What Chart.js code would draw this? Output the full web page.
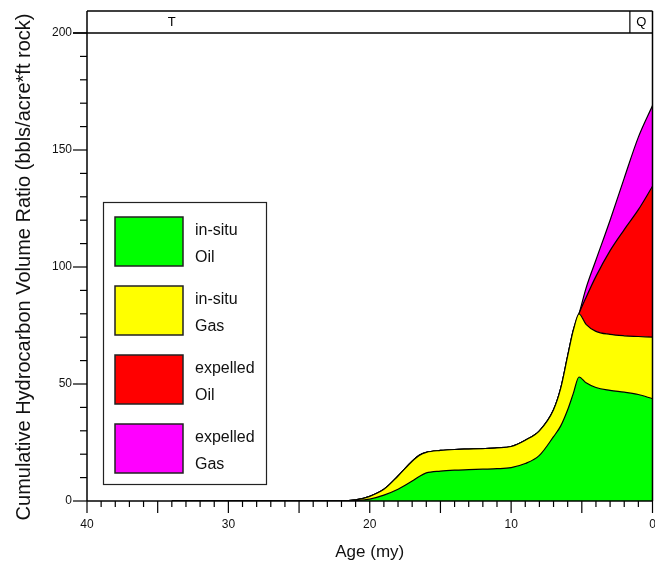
<!DOCTYPE html>
<html><head><meta charset="utf-8">
<style>html,body{margin:0;padding:0;background:#fff;}#wrap{width:655px;height:568px;}</style>
<script src="https://cdn.jsdelivr.net/npm/chart.js@4.4.0/dist/chart.umd.min.js"></script>
</head><body><div id="wrap"><canvas id="c" width="655" height="568"></canvas></div>
<script>
// ---- data ----
const ages        = [34, 30, 25, 22, 21, 20, 19, 18, 17, 16.5, 16, 15, 14, 13, 12, 11, 10, 9, 8, 7, 6.5, 6, 5.6, 5.2, 4.7, 4, 3, 2, 1, 0];
const inSituOil   = [0, 0, 0, 0, 0.2, 0.8, 2.5, 5, 8.5, 10.5, 12, 12.8, 13.2, 13.4, 13.6, 13.8, 14.3, 16, 19.5, 27.5, 32, 39, 46, 53, 50.5, 48.5, 47.3, 46.5, 45.5, 43.7];
const inSituGas   = [0, 0, 0, 0, 0.3, 1.2, 2.5, 5.7, 8.5, 9, 8.8, 8.8, 8.8, 8.8, 8.8, 8.9, 9, 10, 10.5, 11.5, 16, 23, 27, 27, 25, 24, 23.9, 24.1, 24.8, 26.3];
const expelledOil = [0, 0, 0, 0, 0, 0, 0, 0, 0, 0, 0, 0, 0, 0, 0, 0, 0, 0, 0, 0, 0, 0, 0, 0, 11.5, 23.5, 35.8, 45.4, 54.2, 64.5];
const expelledGas = [0, 0, 0, 0, 0, 0, 0, 0, 0, 0, 0, 0, 0, 0, 0, 0, 0, 0, 0, 0, 0, 0, 0, 0, 4, 7, 13, 22, 31, 34.5];
const seriesLabels = [["in-situ", "Oil"], ["in-situ", "Gas"], ["expelled", "Oil"], ["expelled", "Gas"]];
const seriesColors = ["#00ff00", "#ffff00", "#ff0000", "#ff00ff"];
const yTickValues = [0, 50, 100, 150, 200];
const xTickValues = [40, 30, 20, 10, 0];
const periodNames = ["T", "Q"];
const periodEnds = [1.6, 0];      // younger boundary of each period (my)
const periodLabelAges = [34, 0.8];

// ---- fonts ----
function hasFont(name) {
  const c = document.createElement('canvas').getContext('2d');
  c.font = '40px monospace'; const a = c.measureText('200 Age mmwi').width;
  c.font = '40px "' + name + '", monospace'; const b = c.measureText('200 Age mmwi').width;
  return Math.abs(a - b) > 0.5;
}
const HAS_NARROW = hasFont('Liberation Sans Narrow');
const NARROW = HAS_NARROW ? '"Liberation Sans Narrow"' : '"Liberation Sans"';
const narrowSize = HAS_NARROW ? 14 : 12;
const SANS = '"Liberation Sans", Arial, sans-serif';

const series = [inSituOil, inSituGas, expelledOil, expelledGas];
const datasets = series.map((vals, i) => ({
  label: seriesLabels[i].join(' '),
  legendLines: seriesLabels[i],
  data: ages.map((a, k) => ({x: a, y: vals[k]})),
  backgroundColor: seriesColors[i],
  borderColor: '#000',
  borderWidth: 1.2,
  pointRadius: 0,
  cubicInterpolationMode: 'monotone',
  fill: i === 0 ? 'origin' : '-1'
}));

const decor = {
  id: 'decor',
  afterDraw(chart) {
    const {ctx, chartArea: a, scales: {x, y}} = chart;
    ctx.save();
    ctx.strokeStyle = '#000';
    ctx.lineWidth = 1.2;
    const line = (x1, y1, x2, y2) => { ctx.beginPath(); ctx.moveTo(x1, y1); ctx.lineTo(x2, y2); ctx.stroke(); };
    // y minor/major ticks
    for (let v = y.min; v <= y.max; v += 10) {
      const py = y.getPixelForValue(v);
      line(a.left - (v % 50 === 0 ? 14 : 7), py, a.left, py);
    }
    // x minor/major ticks
    for (let v = x.min; v <= x.max; v += 1) {
      const px = x.getPixelForValue(v);
      line(px, a.bottom, px, a.bottom + (v % 5 === 0 ? 12 : 6));
    }
    // frame: left, bottom, right, top
    ctx.lineWidth = 1.5;
    line(a.left, a.top - 22, a.left, a.bottom);
    line(a.left, a.bottom, a.right, a.bottom);
    line(a.right, a.top - 22, a.right, a.bottom);
    line(a.left - 14, a.top, a.right, a.top);
    // period band
    line(a.left, a.top - 22, a.right, a.top - 22);
    ctx.lineWidth = 1.2;
    periodEnds.forEach(e => { if (e > x.min) { const px = x.getPixelForValue(e); line(px, a.top - 22, px, a.top); } });
    ctx.fillStyle = '#000';
    ctx.font = '13px ' + NARROW;
    ctx.textAlign = 'center'; ctx.textBaseline = 'middle';
    periodNames.forEach((n, i) => ctx.fillText(n, x.getPixelForValue(periodLabelAges[i]), a.top - 11));
    // legend
    const lx = a.left + 16, ly = a.top + 169, lw = 163, lh = 282;
    ctx.fillStyle = '#fff';
    ctx.fillRect(lx, ly, lw, lh);
    ctx.strokeStyle = '#222'; ctx.lineWidth = 1.2;
    ctx.strokeRect(lx + 0.5, ly + 0.5, lw, lh);
    ctx.font = '16px ' + SANS;
    ctx.textAlign = 'left'; ctx.textBaseline = 'middle';
    chart.data.datasets.forEach((ds, i) => {
      const sy = ly + 15 + i * 69;
      ctx.fillStyle = ds.backgroundColor;
      ctx.fillRect(lx + 12, sy, 68, 49);
      ctx.strokeStyle = '#222'; ctx.lineWidth = 1.5;
      ctx.strokeRect(lx + 12, sy, 68, 49);
      ctx.fillStyle = '#111';
      ds.legendLines.forEach((t, j) => ctx.fillText(t, lx + 92, sy + 14 + j * 27));
    });
    ctx.restore();
  }
};

new Chart(document.getElementById('c'), {
  type: 'line',
  data: {datasets},
  plugins: [decor],
  options: {
    responsive: false,
    animation: false,
    devicePixelRatio: 1,
    layout: {padding: {top: 33, right: 2.5, left: 0, bottom: 0}},
    plugins: {legend: {display: false}, tooltip: {enabled: false}},
    scales: {
      x: {
        type: 'linear', min: 0, max: 40, reverse: true,
        afterFit: s => { s.height = 67; s.paddingLeft = 0; s.paddingRight = 0; },
        grid: {display: false, drawTicks: false},
        border: {display: false},
        afterBuildTicks: s => { s.ticks = xTickValues.map(v => ({value: v})); },
        ticks: {padding: 16, color: '#111', font: {family: NARROW, size: narrowSize}, maxRotation: 0, autoSkip: false},
        title: {display: true, text: 'Age (my)', color: '#111', font: {family: SANS, size: 17}, padding: {top: 0, bottom: 5}}
      },
      y: {
        type: 'linear', min: 0, max: 200, stacked: true,
        afterFit: s => { s.width = 87; s.paddingTop = 0; s.paddingBottom = 0; },
        grid: {display: false, drawTicks: false},
        border: {display: false},
        afterBuildTicks: s => { s.ticks = yTickValues.map(v => ({value: v})); },
        ticks: {padding: 15, color: '#111', font: {family: NARROW, size: narrowSize}},
        title: {display: true, text: 'Cumulative Hydrocarbon Volume Ratio (bbls/acre*ft rock)', color: '#111', font: {family: SANS, size: 20}, padding: {top: 12, bottom: 0}}
      }
    }
  }
});
</script></body></html>
